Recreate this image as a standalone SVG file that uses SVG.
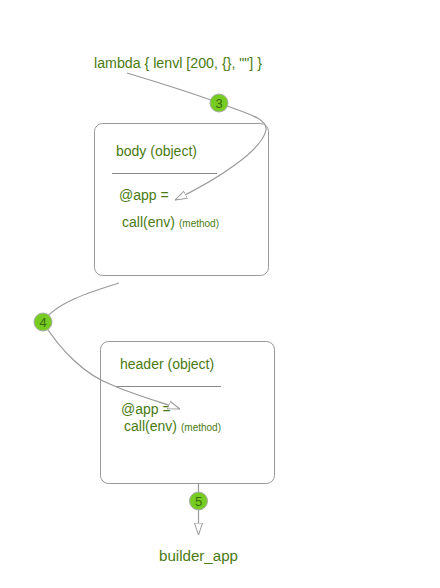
<svg xmlns="http://www.w3.org/2000/svg" width="440" height="588" viewBox="0 0 440 588">
<defs>
<style>
.t{font-family:"Liberation Sans",Arial,sans-serif;font-size:14px;fill:#4a7a12}
.s{font-family:"Liberation Sans",Arial,sans-serif;font-size:10px;fill:#4a7a12}
.box{fill:#fff;stroke:#999;stroke-width:1}
.sep{stroke:#888;stroke-width:1}
.c{fill:none;stroke:#999;stroke-width:1.2}
.dot{fill:#77cc22;stroke:#aaa;stroke-width:1}
.n{font-family:"Liberation Sans",Arial,sans-serif;font-size:13px;fill:#3a6a10;text-anchor:middle}
</style>
<marker id="ah" viewBox="0 0 12 10" refX="12" refY="5" markerWidth="12" markerHeight="10" markerUnits="userSpaceOnUse" orient="auto">
<path d="M0,1 L12,5 L0,9 Z" fill="#fff" stroke="#999" stroke-width="1"/>
</marker>
</defs>
<rect width="440" height="588" fill="#fff"/>
<g id="lambda"><text class="t" x="94" y="68" textLength="168" lengthAdjust="spacingAndGlyphs">lambda { lenvl [200, {}, ""] }</text></g>
<g id="body">
<rect class="box" x="94.5" y="123.5" width="174" height="152" rx="8"/>
<text class="t" x="116" y="156">body (object)</text>
<line class="sep" x1="112" y1="173.5" x2="217" y2="173.5"/>
<text class="t" x="119" y="200">@app =</text>
<text class="t" x="122" y="227">call(env)</text>
<text class="s" x="179" y="227">(method)</text>
</g>
<g id="header">
<rect class="box" x="100.5" y="341.5" width="174" height="142" rx="8"/>
<text class="t" x="120" y="369">header (object)</text>
<line class="sep" x1="115" y1="386.5" x2="221" y2="386.5"/>
<text class="t" x="121" y="414">@app =</text>
<text class="t" x="124" y="431">call(env)</text>
<text class="s" x="181" y="431">(method)</text>
</g>
<g id="builder_app"><text class="t" x="198.5" y="561" text-anchor="middle" textLength="79" lengthAdjust="spacingAndGlyphs">builder_app</text></g>
<g id="connectors">
<path class="c" d="M127,73 C160,83 195,94 219,103 C245,113 268,118 266,130 C262,150 220,178 175,200" marker-end="url(#ah)"/>
<path class="c" d="M119,283 C90,292 55,303 43,322 C60,350 85,375 112,385 C135,395 160,402 180,409" marker-end="url(#ah)"/>
<path class="c" d="M198.5,483 L198.5,535" marker-end="url(#ah)"/>
<circle class="dot" cx="219" cy="103" r="9"/>
<text class="n" x="219" y="107.5">3</text>
<circle class="dot" cx="43" cy="322" r="9"/>
<text class="n" x="43" y="326.5">4</text>
<circle class="dot" cx="198.5" cy="501" r="9"/>
<text class="n" x="198.5" y="505.5">5</text>
</g>
</svg>
